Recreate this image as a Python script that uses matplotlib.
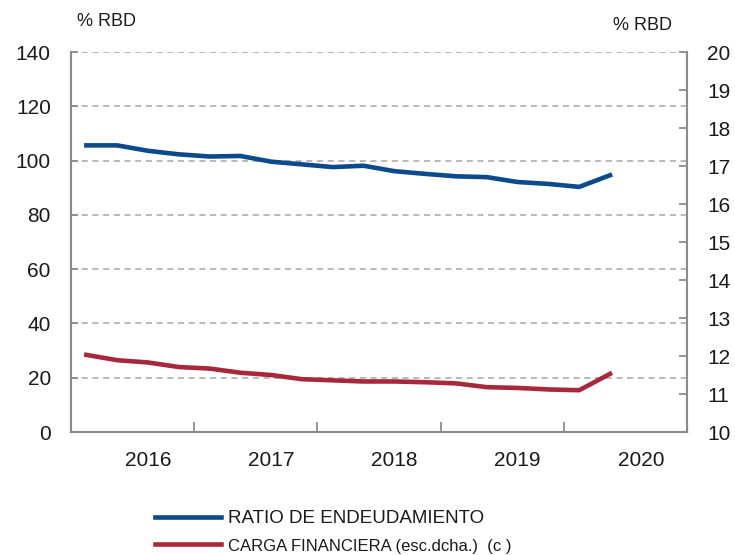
import numpy as np
import matplotlib
matplotlib.use("Agg")
import matplotlib.pyplot as plt

plt.rcParams['font.family'] = ['Liberation Sans', 'DejaVu Sans']

# quarterly data, 2016Q1 - 2020Q2
quarters = ['2016Q1', '2016Q2', '2016Q3', '2016Q4',
            '2017Q1', '2017Q2', '2017Q3', '2017Q4',
            '2018Q1', '2018Q2', '2018Q3', '2018Q4',
            '2019Q1', '2019Q2', '2019Q3', '2019Q4',
            '2020Q1', '2020Q2']
ratio_endeudamiento = [105.6, 105.6, 103.6, 102.3, 101.5, 101.7, 99.6, 98.6,
                       97.6, 98.1, 96.1, 95.1, 94.2, 93.9, 92.1, 91.4,
                       90.3, 94.6]
carga_financiera = [12.03, 11.89, 11.83, 11.71, 11.67, 11.56, 11.50, 11.39,
                    11.36, 11.33, 11.33, 11.31, 11.28, 11.18, 11.16, 11.12,
                    11.10, 11.53]
years = ['2016', '2017', '2018', '2019', '2020']

BLUE = '#0b4a8b'
RED = '#a8283b'
GREY = '#8c8c8c'
TXT = '#1a1a1a'

x = np.arange(len(quarters))

fig = plt.figure(figsize=(7.35, 5.55), dpi=100)
ax = fig.add_axes([0.0966, 0.2216, 0.8381, 0.6847])
ax2 = ax.twinx()

l1, = ax.plot(x, ratio_endeudamiento, color=BLUE, lw=3.3, solid_joinstyle='round')
l2, = ax2.plot(x, carga_financiera, color=RED, lw=3.3, solid_joinstyle='round')

ax.set_xlim(-0.5, 19.5)
ax.set_ylim(0, 140)
ax2.set_ylim(10, 20)
ax.set_yticks(np.arange(0, 141, 20))
ax2.set_yticks(np.arange(10, 21, 1))

# year labels at Q3, ticks at year boundaries
ax.set_xticks([2, 6, 10, 14, 18])
ax.set_xticklabels(years)
ax.set_xticks([3.5, 7.5, 11.5, 15.5], minor=True)
ax.tick_params(axis='x', which='major', length=0, pad=14, labelsize=15, colors=TXT)
ax.tick_params(axis='x', which='minor', direction='in', length=7, width=1.3, color=GREY)
ax.tick_params(axis='y', direction='in', length=5, width=1.3, color=GREY,
               pad=14.5, labelsize=15, labelcolor=TXT)
ax2.tick_params(axis='y', direction='in', length=6, width=1.3, color=GREY,
                pad=14.5, labelsize=15, labelcolor=TXT)

for a in (ax, ax2):
    a.spines['top'].set_visible(False)
    for s in ('left', 'right', 'bottom'):
        a.spines[s].set_color(GREY)
        a.spines[s].set_linewidth(1.5)

for v in range(20, 141, 20):
    ax.axhline(v, color='#a6a6a6', lw=1.1, ls=(0, (4, 3)), zorder=0)

fig.text(77 / 735, 1 - 21 / 555, '% RBD', fontsize=13, color=TXT, va='center', ha='left')
fig.text(672 / 735, 1 - 25 / 555, '% RBD', fontsize=13, color=TXT, va='center', ha='right')

leg = fig.legend([l1, l2], ['RATIO DE ENDEUDAMIENTO', 'CARGA FINANCIERA (esc.dcha.)  (c )'],
                 loc='upper left', bbox_to_anchor=(155 / 735, 1 - 510 / 555),
                 frameon=False, borderpad=0, borderaxespad=0,
                 handlelength=3.5, handletextpad=0.4,
                 labelspacing=0.55, fontsize=13.5)
leg.get_texts()[1].set_fontsize(12)
for t in leg.get_texts():
    t.set_color(TXT)

fig.savefig('out.png', dpi=100)
